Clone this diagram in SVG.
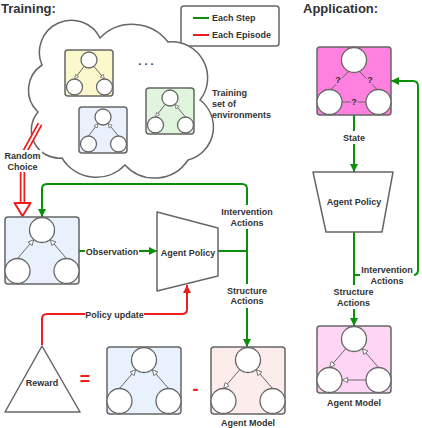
<svg xmlns="http://www.w3.org/2000/svg" width="422" height="428" viewBox="0 0 422 428">
<style>
.bx{stroke:#666;stroke-width:1.5}
.c{fill:#fff;stroke:#666;stroke-width:1.3}
.e{fill:none;stroke:#666;stroke-width:1}
.eb{marker-end:url(#oa)}
.es{marker-end:url(#os)}
.t{font-family:"Liberation Sans",Arial,sans-serif;font-weight:bold;font-size:9px;fill:#333}
.m{text-anchor:middle}
.h{font-size:13px}
.g{fill:none;stroke:#0a8f0a;stroke-width:2}
.r{fill:none;stroke:#ee1c1c;stroke-width:2}
.bg{fill:#fff}
</style>
<defs>
<marker id="oa" viewBox="0 0 10 10" refX="10" refY="5" markerUnits="userSpaceOnUse" markerWidth="7" markerHeight="6" orient="auto"><path d="M0.5,0.5 L9.5,5 L0.5,9.5 Z" fill="#fff" stroke="#666" stroke-width="1.4"/></marker>
<marker id="os" viewBox="0 0 10 10" refX="10" refY="5" markerUnits="userSpaceOnUse" markerWidth="5.5" markerHeight="4.5" orient="auto"><path d="M0.5,0.5 L9.5,5 L0.5,9.5 Z" fill="#fff" stroke="#666" stroke-width="1.6"/></marker>
<marker id="ga" viewBox="0 0 10 10" refX="10" refY="5" markerUnits="userSpaceOnUse" markerWidth="8" markerHeight="8" orient="auto"><path d="M0,0 L10,5 L0,10 Z" fill="#0a8f0a"/></marker>
<marker id="ra" viewBox="0 0 10 10" refX="10" refY="5" markerUnits="userSpaceOnUse" markerWidth="8" markerHeight="8" orient="auto"><path d="M0,0 L10,5 L0,10 Z" fill="#ee1c1c"/></marker>
</defs>

<text class="t h" x="1" y="13">Training:</text>
<text class="t h" x="303" y="13">Application:</text>

<g id="legend">
<rect x="181" y="6" width="98" height="40" rx="3" fill="#fff" class="bx"/>
<line x1="193" y1="18" x2="209" y2="18" class="g"/>
<line x1="193" y1="35" x2="209" y2="35" class="r"/>
<text class="t" x="212" y="21">Each Step</text>
<text class="t" x="212" y="38">Each Episode</text>
</g>

<g id="cloud">
<path d="M42,65 A32,32 0 0 1 100,38 A45,45 0 0 1 168,42 A36,36 0 0 1 200,100 A34,34 0 0 1 188,160 A40,40 0 0 1 125,165 A40,40 0 0 1 62,158 A28,28 0 0 1 38,112 A30,30 0 0 1 42,65 Z" fill="#fff" class="bx"/>
<text class="t m" x="146" y="65" style="font-size:11px">. . .</text>
<text class="t" x="212" y="96">Training</text>
<text class="t" x="212" y="107">set of</text>
<text class="t" x="212" y="118">environments</text>
</g>

<g id="env-yellow" transform="translate(65,50)">
<rect width="48" height="46" rx="3" fill="#fbf9cb" class="bx"/>
<circle cx="24" cy="10" r="8" class="c"/><circle cx="9.5" cy="37" r="8" class="c"/><circle cx="39.5" cy="37" r="8" class="c"/>
<path d="M19.1,16.4 L9.5,29" class="e es"/><path d="M28.9,16.4 L39.5,29" class="e es"/>
</g>
<g id="env-blue" transform="translate(79,107)">
<rect width="48" height="46" rx="3" fill="#e9f2fc" class="bx"/>
<circle cx="24" cy="10" r="8" class="c"/><circle cx="9.5" cy="37" r="8" class="c"/><circle cx="39.5" cy="37" r="8" class="c"/>
<path d="M9.5,29 L19.1,16.4" class="e es"/><path d="M39.5,29 L28.9,16.4" class="e es"/>
</g>
<g id="env-green" transform="translate(146,88)">
<rect width="48" height="46" rx="3" fill="#e1f5de" class="bx"/>
<circle cx="24" cy="10" r="8" class="c"/><circle cx="9.5" cy="37" r="8" class="c"/><circle cx="39.5" cy="37" r="8" class="c"/>
<path d="M19.1,16.4 L9.5,29" class="e es"/><path d="M39.5,29 L28.9,16.4" class="e es"/>
</g>

<g id="connectors">
<path d="M40,124 L22.5,156 L22.5,203" fill="none" stroke="#ee1c1c" stroke-width="5.5"/>
<path d="M40,124 L22.5,156 L22.5,203" fill="none" stroke="#fff" stroke-width="2"/>
<polygon points="14.5,203 30.5,203 22.5,216" fill="#fff" stroke="#ee1c1c" stroke-width="2" stroke-linejoin="round"/>
<rect x="3" y="150" width="39" height="22" class="bg"/>
<text class="t m" x="22.5" y="159">Random</text>
<text class="t m" x="22.5" y="170">Choice</text>

<path d="M79,251 L157,251" class="g" marker-end="url(#ga)"/>
<path d="M218,251 L247,251" class="g"/>
<path d="M247,251 L247,189 Q247,184 242,184 L47,184 Q42,184 42,189 L42,217" class="g" marker-end="url(#ga)"/>
<path d="M247,251 L247,347" class="g" marker-end="url(#ga)"/>
<rect x="85" y="245" width="54" height="13" class="bg"/>
<text class="t m" x="112" y="254.5">Observation</text>
<rect x="219" y="205" width="56" height="24" class="bg"/>
<text class="t m" x="247" y="215">Intervention</text>
<text class="t m" x="247" y="225.5">Actions</text>
<rect x="223" y="284" width="48" height="24" class="bg"/>
<text class="t m" x="247" y="293.5">Structure</text>
<text class="t m" x="247" y="304">Actions</text>

<path d="M42,345 L42,319 Q42,314 47,314 L182,314 Q187,314 187,309 L187,285" class="r" marker-end="url(#ra)"/>
<rect x="85" y="308" width="59" height="13" class="bg"/>
<text class="t m" x="114.5" y="317.5">Policy update</text>

<path d="M354,115 L354,172" class="g" marker-end="url(#ga)"/>
<rect x="340" y="131" width="28" height="13" class="bg"/>
<text class="t m" x="354" y="140.5">State</text>
<path d="M354,232 L354,326" class="g" marker-end="url(#ga)"/>
<path d="M354,275 L413,275 Q418,275 418,270 L418,86 Q418,81 413,81 L391,81" class="g" marker-end="url(#ga)"/>
<rect x="360" y="263" width="54" height="24" class="bg"/>
<text class="t m" x="387" y="272.5">Intervention</text>
<text class="t m" x="387" y="283.5">Actions</text>
<rect x="330" y="285" width="47" height="24" class="bg"/>
<text class="t m" x="353.5" y="294.5">Structure</text>
<text class="t m" x="353.5" y="305.5">Actions</text>
</g>

<g id="observation-env" transform="translate(5,217)">
<rect width="74" height="67" rx="3" fill="#e9f2fc" class="bx"/>
<circle cx="37" cy="13" r="12.5" class="c"/><circle cx="12.5" cy="54" r="12.5" class="c"/><circle cx="61.5" cy="54" r="12.5" class="c"/>
<path d="M12.5,41.5 L28.85,22.5" class="e eb"/><path d="M61.5,41.5 L45.15,22.5" class="e eb"/>
</g>

<g id="agent-policy">
<polygon points="157,212 218,228 218,276 157,291" fill="#fff" class="bx" stroke-linejoin="round"/>
<text class="t m" x="188" y="255.5">Agent Policy</text>
</g>

<g id="reward">
<polygon points="42,346 80,412 5,412" fill="#fff" class="bx" stroke-linejoin="round"/>
<text class="t m" x="42" y="386">Reward</text>
</g>
<text class="t m" x="85" y="385" style="font-size:18px;fill:#ee1c1c">=</text>
<text class="t m" x="195.5" y="395" style="font-size:18px;fill:#ee1c1c">-</text>

<g id="true-env" transform="translate(107,347)">
<rect width="74" height="67" rx="3" fill="#e9f2fc" class="bx"/>
<circle cx="37" cy="13" r="12.5" class="c"/><circle cx="12.5" cy="54" r="12.5" class="c"/><circle cx="61.5" cy="54" r="12.5" class="c"/>
<path d="M12.5,41.5 L28.85,22.5" class="e eb"/><path d="M61.5,41.5 L45.15,22.5" class="e eb"/>
</g>

<g id="agent-model" transform="translate(211,347)">
<rect width="74" height="67" rx="3" fill="#fcecec" class="bx"/>
<circle cx="37" cy="13" r="12.5" class="c"/><circle cx="12.5" cy="54" r="12.5" class="c"/><circle cx="61.5" cy="54" r="12.5" class="c"/>
<path d="M28.85,22.5 L12.5,41.5" class="e eb"/><path d="M61.5,41.5 L45.15,22.5" class="e eb"/>
<text class="t m" x="37" y="79">Agent Model</text>
</g>

<g id="app-env" transform="translate(317,47)">
<rect width="74" height="68" rx="3" fill="#ff80df" class="bx"/>
<path d="M31,25 L14,42.5 M43,25 L60,42.5 M25,55 L49,55" class="e"/>
<circle cx="37" cy="13" r="12.5" class="c"/><circle cx="12.5" cy="55" r="12.5" class="c"/><circle cx="61.5" cy="55" r="12.5" class="c"/>
<g class="t m" style="stroke:#ff80df;stroke-width:3;paint-order:stroke">
<text x="21" y="36">?</text><text x="53" y="36">?</text><text x="37" y="58">?</text>
</g>
</g>

<g id="app-policy">
<polygon points="313,172 393,172 382,232 326,232" fill="#fff" class="bx" stroke-linejoin="round"/>
<text class="t m" x="354" y="204.5">Agent Policy</text>
</g>

<g id="app-model" transform="translate(317,326)">
<rect width="74" height="67" rx="3" fill="#ffd5f5" class="bx"/>
<circle cx="37" cy="13" r="12.5" class="c"/><circle cx="12.5" cy="54" r="12.5" class="c"/><circle cx="61.5" cy="54" r="12.5" class="c"/>
<path d="M28.85,22.5 L12.5,41.5" class="e eb"/><path d="M61.5,41.5 L45.15,22.5" class="e eb"/><path d="M49,54 L25,54" class="e eb"/>
<text class="t m" x="37" y="79.5">Agent Model</text>
</g>
</svg>
